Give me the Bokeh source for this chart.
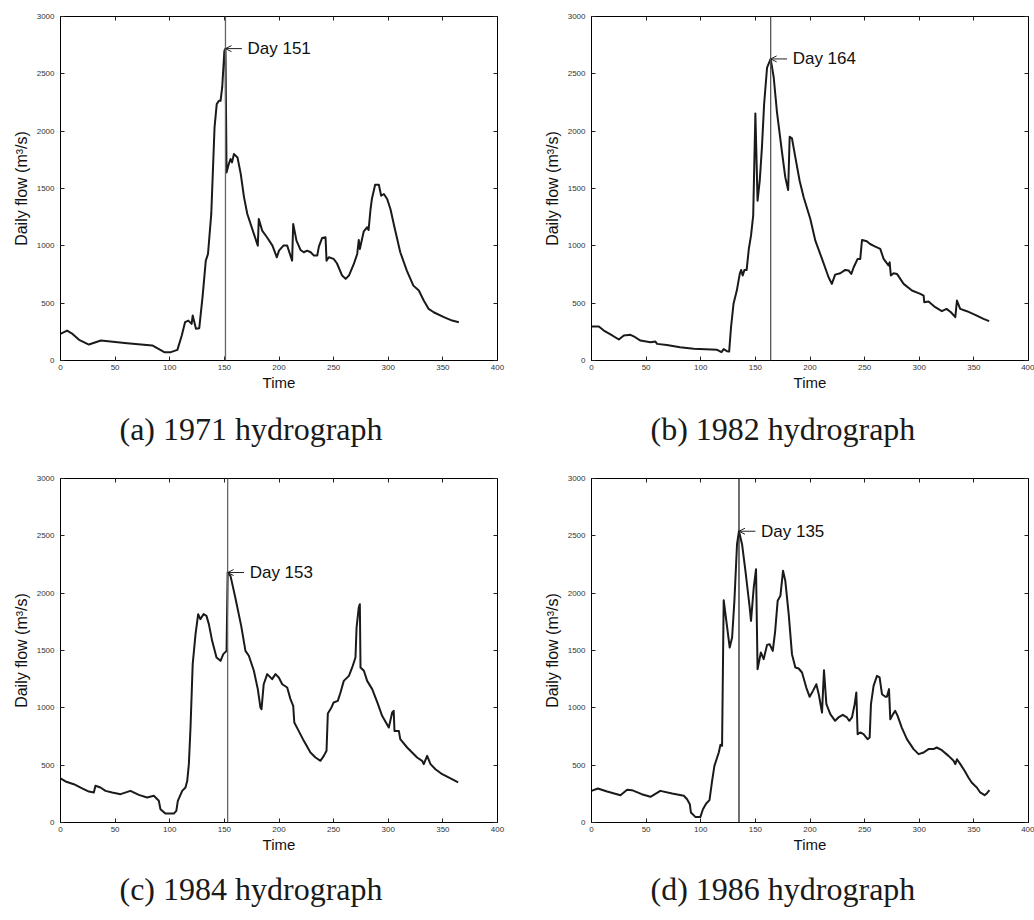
import numpy as np
from bokeh.plotting import figure
from bokeh.layouts import column, row
from bokeh.models import (Range1d, FixedTicker, LinearAxis, Span, Arrow, OpenHead,
                          Label, CustomJSTickFormatter)
from bokeh.embed import file_html
from bokeh.resources import INLINE

# ---------------- data ----------------
days_1971 = [0, 6, 11, 17, 26, 37, 61, 84, 95, 101, 107, 111, 114, 117, 120, 121, 124, 127,
             130, 133, 135, 138, 141, 143, 145, 146.5, 148, 150, 151, 152, 154, 155.6, 157,
             158.7, 162, 165, 168, 171, 177, 180.6, 181.5, 184.6, 189, 194, 198, 200, 204,
             207.5, 210, 212, 213, 216, 219.7, 222.7, 225.8, 229, 232, 235, 236.5, 239.5,
             242.6, 243.5, 245.6, 250, 253, 257.8, 261, 264, 268.5, 271.6, 273, 274, 277.6,
             280.7, 282, 283.8, 285, 288, 291.4, 293.5, 296, 299, 302, 305.7, 311, 317, 323,
             328, 332.5, 337, 341.6, 350.9, 358.5, 364.6]
flow_1971 = [232, 261, 232, 180, 139, 174, 151, 131, 73, 73, 93, 218, 334, 348, 319, 392, 276,
             282, 552, 871, 929, 1278, 2033, 2236, 2265, 2265, 2381, 2700, 2720, 1640, 1713,
             1757, 1728, 1800, 1771, 1626, 1423, 1278, 1104, 1002, 1234, 1133, 1075, 1002,
             900, 958, 1002, 1002, 929, 871, 1191, 1045, 964, 944, 958, 944, 915, 915, 993,
             1069, 1075, 871, 900, 886, 848, 741, 712, 741, 842, 929, 1051, 973, 1127, 1162,
             1138, 1321, 1408, 1533, 1533, 1437, 1452, 1408, 1321, 1162, 944, 784, 653, 610,
             523, 450, 421, 378, 348, 334]

days_1982 = [0, 6.7, 11.3, 17.4, 25, 29.6, 35.7, 40, 44.8, 54, 58.5, 60, 69, 81, 93.6, 115,
             119, 121, 124, 126, 127.7, 130, 133, 135.7, 137, 138.4, 140, 142, 144, 146, 148,
             150, 152, 154, 156, 158, 160.7, 164, 166.8, 169.8, 174.4, 177.4, 180, 181.4,
             183.5, 186.6, 190.5, 194.2, 200.3, 204.9, 211, 217, 220, 223, 227.7, 232.3,
             235.4, 237.8, 240, 243.6, 246, 247.6, 252, 255, 259.8, 264.3, 267.4, 272, 272.9,
             274, 276.5, 279.6, 285.7, 293.3, 301, 304, 304.6, 308.5, 314.6, 320.7, 325, 329,
             333, 334.5, 337.5, 343.6, 352.7, 358.8, 364]
flow_1982 = [296, 296, 261, 227, 183, 218, 224, 203, 174, 160, 166, 145, 136, 116, 102, 93, 73,
             99, 81, 78, 290, 494, 610, 755, 790, 741, 790, 790, 973, 1089, 1263, 2155, 1394,
             1568, 1859, 2236, 2555, 2630, 2468, 2163, 1815, 1597, 1487, 1951, 1937, 1771,
             1568, 1423, 1234, 1045, 886, 726, 668, 749, 761, 790, 784, 755, 813, 886, 886,
             1051, 1040, 1016, 993, 973, 886, 828, 857, 741, 761, 755, 668, 610, 581, 566,
             508, 514, 465, 430, 450, 421, 378, 523, 450, 430, 392, 363, 343]

days_1984 = [0, 4.6, 12.2, 19.8, 26, 30.5, 32, 36.6, 41.2, 47.3, 55, 64, 71.7, 79.3, 85.4, 90,
             91.5, 96, 103.7, 106, 107.4, 111.4, 114.4, 116, 117.5, 119, 121, 123.6, 126, 128,
             131, 133.6, 135.8, 138.8, 142.8, 146.5, 149, 152, 153, 155.6, 160, 165.4, 169.3,
             172.4, 177, 180.6, 183, 184, 186, 189.2, 193.7, 196.8, 199.8, 203, 207.5, 210.5,
             213, 214, 218, 222.7, 228.8, 233.4, 238, 241, 243.5, 244.7, 248, 250, 253.8,
             256.3, 259.3, 264, 267, 270, 271, 273, 274, 274.6, 277.7, 280.7, 285.3, 290,
             294.4, 300.5, 303.6, 305, 305.7, 309.7, 311, 317.3, 326.4, 331, 332.5, 335.6,
             338.7, 343.2, 349.4, 357, 364]
flow_1984 = [384, 358, 334, 297, 270, 262, 320, 305, 276, 262, 247, 276, 241, 218, 233, 189,
             116, 78, 78, 102, 189, 276, 305, 363, 509, 828, 1381, 1642, 1817, 1773, 1817,
             1802, 1730, 1584, 1439, 1410, 1468, 1497, 2180, 2151, 1962, 1715, 1497, 1454,
             1323, 1163, 1003, 988, 1206, 1294, 1250, 1294, 1265, 1206, 1177, 1076, 1018, 872,
             799, 712, 610, 567, 538, 581, 625, 951, 1003, 1047, 1061, 1134, 1235, 1279, 1352,
             1439, 1700, 1875, 1904, 1352, 1323, 1235, 1163, 1047, 930, 828, 959, 974, 799,
             799, 727, 654, 567, 538, 509, 581, 509, 465, 421, 384, 349]

days_1986 = [0, 5.8, 14.3, 26.5, 32.6, 37, 46, 54, 63, 73.8, 84.5, 87.5, 90, 91, 95, 99.7, 102,
             105, 108, 110.4, 112.5, 116.5, 118, 119.5, 121, 124, 126.5, 128.7, 130.8, 133.2,
             135, 137.8, 140.9, 144.8, 146, 148.5, 150.6, 152, 155, 157.6, 160.7, 163, 165.9,
             168, 170.4, 172.9, 175.3, 177.4, 180.5, 183.5, 186.6, 189.6, 192.7, 196.6, 199.7,
             202.7, 205.8, 208, 211, 212.8, 215, 218.6, 223, 226, 230, 233.8, 236, 238.4,
             240.9, 242.4, 243.6, 246, 249, 252.7, 254.6, 255.8, 258.2, 261.3, 263.7, 265.9,
             269, 270.4, 272.3, 273.5, 276, 278, 280.2, 284, 288.7, 294.8, 299.4, 304, 308.5,
             313, 316, 320.7, 326.8, 331.4, 333, 334.5, 337.6, 341.5, 345, 348, 351, 352.7,
             355.8, 359.8, 362, 364.3]
flow_1986 = [276, 297, 270, 238, 285, 282, 247, 224, 276, 253, 233, 203, 160, 87, 49, 49, 116,
             166, 195, 363, 494, 610, 677, 669, 1939, 1715, 1526, 1613, 1933, 2427, 2540, 2427,
             2195, 1875, 1759, 2049, 2209, 1337, 1483, 1425, 1549, 1555, 1497, 1657, 1933,
             1977, 2195, 2108, 1817, 1468, 1352, 1343, 1308, 1177, 1096, 1148, 1206, 1119, 959,
             1328, 1032, 945, 887, 916, 939, 916, 887, 916, 1032, 1134, 770, 785, 770, 727, 741,
             1032, 1192, 1279, 1265, 1119, 1096, 1096, 1163, 901, 945, 974, 930, 828, 727, 640,
             596, 610, 640, 640, 654, 631, 581, 538, 509, 552, 509, 451, 392, 349, 320, 305,
             262, 238, 256, 282]

captions = ["(a) 1971 hydrograph", "(b) 1982 hydrograph",
            "(c) 1984 hydrograph", "(d) 1986 hydrograph"]
x_ticks = [0, 50, 100, 150, 200, 250, 300, 350, 400]
y_ticks = [0, 500, 1000, 1500, 2000, 2500, 3000]

SANS = "Liberation Sans"
SERIF = "Liberation Serif"


def panel(days, flow, caption, width, height, left, right, top, bottom, vcolor, cap_standoff):
    p = figure(width=width, height=height, output_backend="svg", toolbar_location=None,
               x_range=Range1d(0, 400), y_range=Range1d(0, 3000),
               min_border_left=left, min_border_right=right,
               min_border_top=top, min_border_bottom=bottom,
               title=caption, title_location="below")
    p.grid.visible = False
    p.outline_line_color = "black"
    p.outline_line_width = 1
    p.background_fill_color = "white"
    p.border_fill_color = "white"

    for ax, ticks in ((p.xaxis[0], x_ticks), (p.yaxis[0], y_ticks)):
        ax.ticker = FixedTicker(ticks=ticks)
        ax.major_tick_in = 4
        ax.major_tick_out = 0
        ax.minor_tick_line_color = None
        ax.axis_line_color = "black"
        ax.major_tick_line_color = "#222222"
        ax.major_label_text_font = SANS
        ax.major_label_text_font_size = "8px"
        ax.major_label_text_color = "#333333"
        ax.axis_label_text_font = SANS
        ax.axis_label_text_font_style = "normal"
        ax.axis_label_text_color = "#111111"
    p.xaxis.axis_label = "Time"
    p.xaxis.axis_label_text_font_size = "15px"
    p.yaxis.axis_label = "Daily flow (m³/s)"
    p.yaxis.axis_label_text_font_size = "16px"
    p.xaxis.major_label_standoff = 4
    p.xaxis.axis_label_standoff = 1
    p.yaxis.major_label_standoff = 6
    p.yaxis.axis_label_standoff = 4

    blank = CustomJSTickFormatter(code="return ''")
    for loc, ticks in (("above", x_ticks), ("right", y_ticks)):
        ax = LinearAxis(ticker=FixedTicker(ticks=ticks), formatter=blank,
                        major_tick_in=4, major_tick_out=0,
                        minor_tick_line_color=None, axis_line_color="black",
                        major_tick_line_color="#222222", major_label_standoff=0)
        p.add_layout(ax, loc)

    p.title.text_font = SERIF
    p.title.text_font_size = "32px"
    p.title.text_font_style = "normal"
    p.title.text_color = "#1a1a1a"
    p.title.align = "left"
    p.title.offset = 59
    p.title.standoff = cap_standoff

    p.line(days, flow, line_width=2, line_color="#1a1a1a", line_join="round")

    i = int(np.argmax(flow))
    pk_day, pk_val = days[i], flow[i]
    p.add_layout(Span(location=pk_day, dimension="height", line_color=vcolor, line_width=1.3))
    p.add_layout(Arrow(end=OpenHead(size=6, line_width=1, line_color="#222222"),
                       x_start=pk_day + 15, y_start=pk_val, x_end=pk_day, y_end=pk_val,
                       line_width=1, line_color="#222222"))
    p.add_layout(Label(x=pk_day, y=pk_val, x_offset=22, text="Day %d" % round(pk_day),
                       text_baseline="middle", text_font=SANS, text_font_size="17px",
                       text_color="#111111"))
    return p


pa = panel(days_1971, flow_1971, captions[0], 520, 470, 60, 23, 16, 110, "#666666", 31)
pb = panel(days_1982, flow_1982, captions[1], 514, 470, 71, 6, 16, 110, "#555555", 31)
pc = panel(days_1984, flow_1984, captions[2], 520, 450, 60, 23, 8, 98, "#666666", 26)
pd = panel(days_1986, flow_1986, captions[3], 514, 450, 71, 6, 8, 98, "#222222", 26)

layout = column(row(pa, pb, spacing=0), row(pc, pd, spacing=0), spacing=0)

with open("out.html", "w") as f:
    f.write(file_html(layout, INLINE))
